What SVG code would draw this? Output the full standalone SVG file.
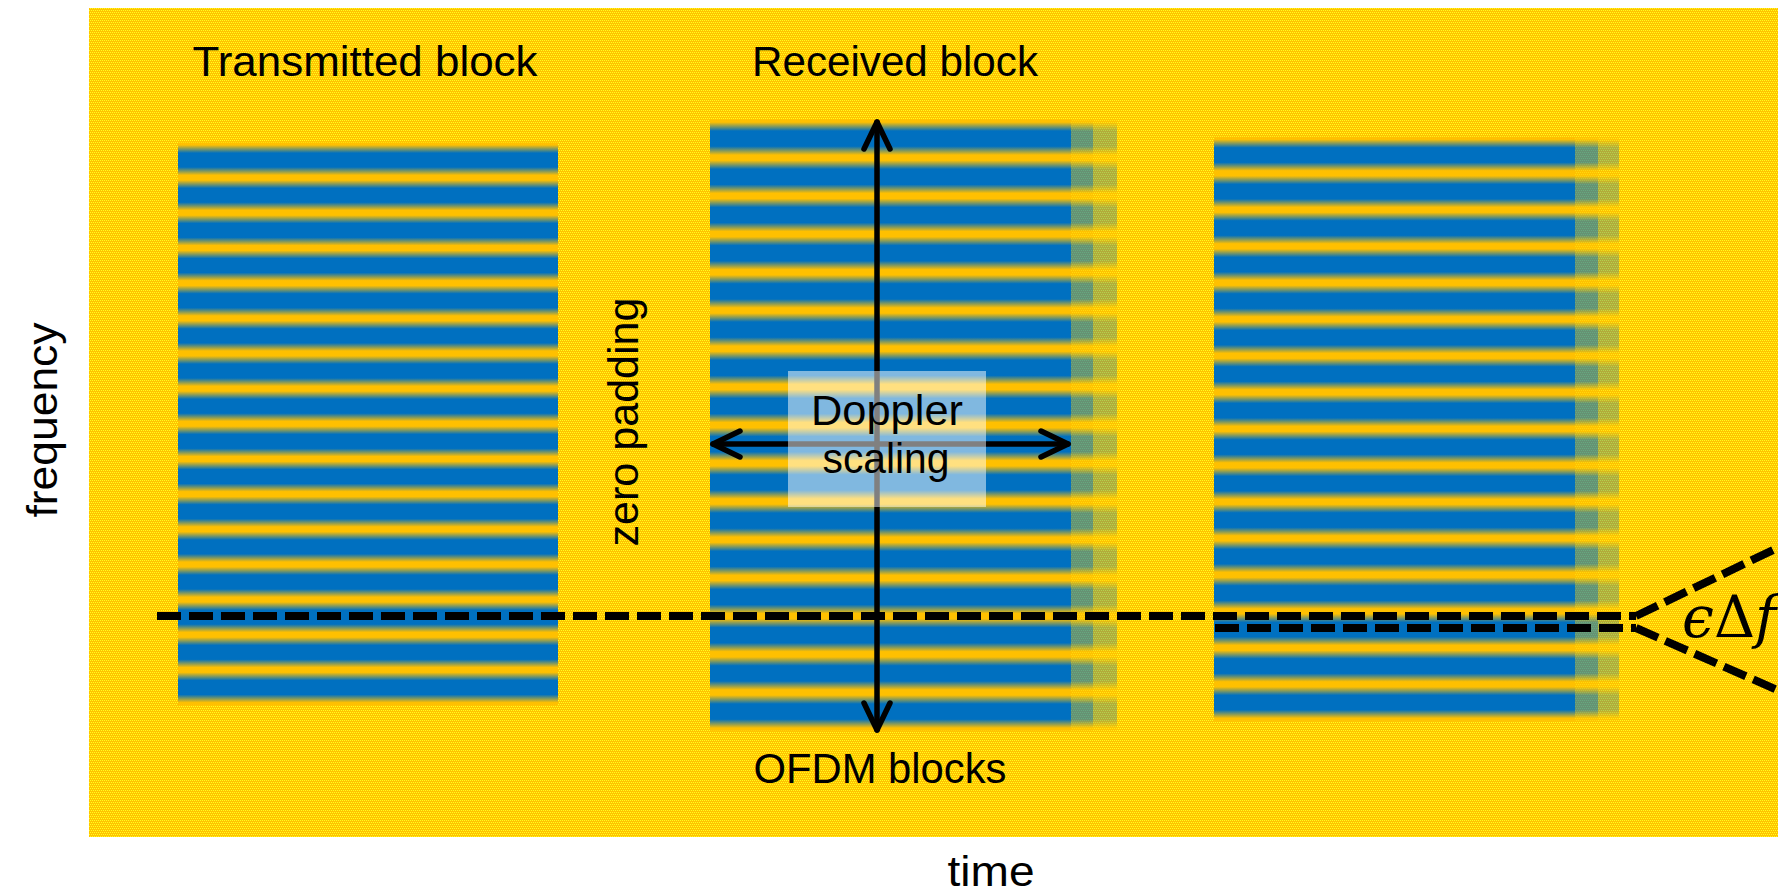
<svg xmlns="http://www.w3.org/2000/svg" width="1778" height="895" viewBox="0 0 1778 895">
  <style>
    .lbl { font-family: "Liberation Sans", Arial, sans-serif; font-size: 42px; fill: #000; }
    .arrow { stroke: #000; stroke-width: 5.5; fill: none; stroke-linecap: round; }
    .dash { stroke: #000; stroke-width: 8; fill: none; stroke-dasharray: 24 8; }
    .math { font-family: "DejaVu Serif", "Liberation Serif", serif; font-size: 57px; fill: #000; }
  </style>
  <defs>
    <!-- dotted yellow canvas texture -->
    <pattern id="dots" width="4" height="4" patternUnits="userSpaceOnUse">
      <rect width="4" height="4" fill="#FFC400"/>
      <rect x="0" y="0" width="1" height="1" fill="#FFFF20"/>
      <rect x="2" y="0" width="1" height="1" fill="#FFFF20"/>
      <rect x="1" y="2" width="1" height="1" fill="#FFFF20"/>
      <rect x="3" y="2" width="1" height="1" fill="#FFFF20"/>
    </pattern>
    <!-- subcarrier stripes: yellow peaks between wide blue bands, one period per gradient cycle -->
    <linearGradient id="stTx" gradientUnits="userSpaceOnUse" x1="0" y1="142.5" x2="0" y2="177.66" spreadMethod="repeat">
      <stop offset="0" stop-color="#FFC000"/>
      <stop offset="0.07" stop-color="#FFC000"/>
      <stop offset="0.3" stop-color="#0070C0"/>
      <stop offset="0.7" stop-color="#0070C0"/>
      <stop offset="0.93" stop-color="#FFC000"/>
      <stop offset="1" stop-color="#FFC000"/>
    </linearGradient>
    <linearGradient id="stRx" gradientUnits="userSpaceOnUse" x1="0" y1="119.5" x2="0" y2="157.7" spreadMethod="repeat">
      <stop offset="0" stop-color="#FFC000"/>
      <stop offset="0.07" stop-color="#FFC000"/>
      <stop offset="0.3" stop-color="#0070C0"/>
      <stop offset="0.7" stop-color="#0070C0"/>
      <stop offset="0.93" stop-color="#FFC000"/>
      <stop offset="1" stop-color="#FFC000"/>
    </linearGradient>
    <linearGradient id="st3" gradientUnits="userSpaceOnUse" x1="0" y1="136.8" x2="0" y2="173.3" spreadMethod="repeat">
      <stop offset="0" stop-color="#FFC000"/>
      <stop offset="0.07" stop-color="#FFC000"/>
      <stop offset="0.3" stop-color="#0070C0"/>
      <stop offset="0.7" stop-color="#0070C0"/>
      <stop offset="0.93" stop-color="#FFC000"/>
      <stop offset="1" stop-color="#FFC000"/>
    </linearGradient>
    <marker id="chev" markerUnits="userSpaceOnUse" viewBox="-32 -16 36 32" refX="0" refY="0" markerWidth="36" markerHeight="32" orient="auto-start-reverse" overflow="visible">
      <path d="M -27 -13 L 0 0 L -27 13" fill="none" stroke="#000" stroke-width="5.5" stroke-linecap="round" stroke-linejoin="round"/>
    </marker>
  </defs>

  <rect width="1778" height="895" fill="#FFFFFF"/>
  <rect id="canvas" x="89" y="8" width="1689" height="829" fill="url(#dots)"/>

  <!-- transmitted OFDM block -->
  <g id="block-tx">
    <rect x="178" y="142.5" width="380" height="562.6" fill="url(#stTx)"/>
  </g>

  <!-- received block, stretched by Doppler, with fading tail -->
  <g id="block-rx">
    <rect x="710" y="119.5" width="361" height="611.2" fill="url(#stRx)"/>
    <rect x="1071" y="119.5" width="22" height="611.2" fill="url(#stRx)" opacity="0.6"/>
    <rect x="1093" y="119.5" width="24" height="611.2" fill="url(#stRx)" opacity="0.3"/>
  </g>

  <!-- following block with frequency offset -->
  <g id="block-3">
    <rect x="1214" y="136.8" width="361" height="584" fill="url(#st3)"/>
    <rect x="1575" y="136.8" width="23" height="584" fill="url(#st3)" opacity="0.6"/>
    <rect x="1598" y="136.8" width="21" height="584" fill="url(#st3)" opacity="0.3"/>
  </g>

  <g id="connectors">
    <line class="arrow" x1="877" y1="122" x2="877" y2="730" marker-start="url(#chev)" marker-end="url(#chev)"/>
    <line class="arrow" x1="713" y1="444" x2="1068" y2="444" marker-start="url(#chev)" marker-end="url(#chev)"/>
    <path class="dash" d="M157 616 H1636"/>
    <path class="dash" d="M1215 628 H1636"/>
    <path class="dash" d="M1636 616 L1800 537"/>
    <path class="dash" d="M1636 628 L1800 700"/>
  </g>

  <g id="doppler-label">
    <rect x="788" y="371" width="198" height="136" fill="#FFFFFF" fill-opacity="0.5"/>
    <text class="lbl" x="887" y="425" text-anchor="middle" textLength="152" lengthAdjust="spacingAndGlyphs">Doppler</text>
    <text class="lbl" x="886" y="473" text-anchor="middle" textLength="127" lengthAdjust="spacingAndGlyphs">scaling</text>
  </g>

  <g id="labels">
    <text class="lbl" x="365" y="76" text-anchor="middle" textLength="345" lengthAdjust="spacingAndGlyphs">Transmitted block</text>
    <text class="lbl" x="895" y="76" text-anchor="middle" textLength="286" lengthAdjust="spacingAndGlyphs">Received block</text>
    <text class="lbl" x="880" y="783" text-anchor="middle" textLength="253" lengthAdjust="spacingAndGlyphs">OFDM blocks</text>
    <text class="lbl" x="991" y="886" text-anchor="middle" textLength="87" lengthAdjust="spacingAndGlyphs">time</text>
    <text class="lbl" transform="translate(57 420) rotate(-90)" text-anchor="middle" textLength="195" lengthAdjust="spacingAndGlyphs">frequency</text>
    <text class="lbl" transform="translate(638 422) rotate(-90)" text-anchor="middle" textLength="249" lengthAdjust="spacingAndGlyphs">zero padding</text>
    <text class="math" x="1682" y="637"><tspan font-style="italic">ϵ</tspan><tspan>Δ</tspan><tspan font-style="italic">f</tspan></text>
  </g>
</svg>
